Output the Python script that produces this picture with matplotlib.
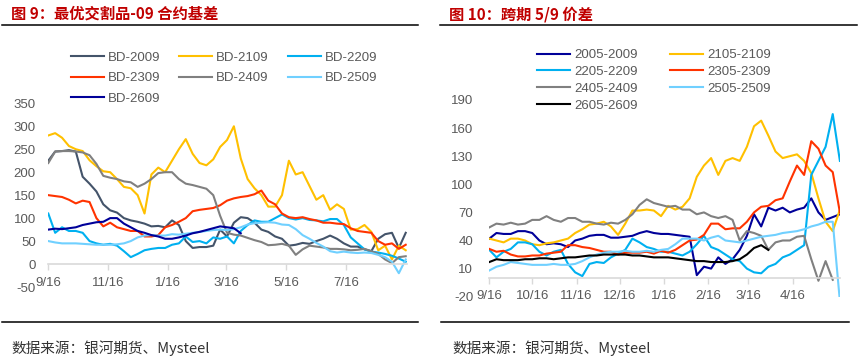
import matplotlib
matplotlib.use("Agg")
import matplotlib.pyplot as plt
import matplotlib.dates as mdates
from matplotlib.lines import Line2D
import pandas as pd

plt.rcParams['font.family'] = ['Liberation Sans', 'Noto Sans CJK SC', 'DejaVu Sans']

# ---------------- Chart 9 data (weekly, from 2024-09-16) ----------------
left_dates = pd.date_range('2024-09-16', periods=53, freq='7D')
bd2009 = [225,245,246,248,245,190,175,158,130,117,112,100,95,92,88,82,83,80,95,85,
          50,35,37,37,40,75,60,90,102,100,90,75,70,60,55,40,42,46,44,50,
          55,62,55,45,38,38,32,28,55,65,68,35,68]
bd2109 = [280,285,275,257,250,246,226,213,202,200,185,168,165,150,110,195,210,200,225,250,
          272,240,220,215,228,255,270,300,230,185,165,150,125,125,150,225,195,200,170,140,
          150,118,130,120,75,76,85,70,30,40,10,40,30]
bd2209 = [110,68,80,72,72,68,50,45,42,44,40,28,15,22,30,33,35,35,42,45,
          60,48,50,45,58,55,60,45,72,85,95,92,92,100,108,100,97,100,96,95,
          93,98,98,85,58,45,32,27,25,22,18,12,5]
bd2309 = [150,148,146,140,132,138,135,100,82,90,80,76,72,72,60,60,63,80,85,92,
          100,115,118,120,122,128,138,143,146,148,152,160,138,130,110,102,100,102,98,95,
          90,90,88,87,78,72,70,68,50,42,45,33,42]
bd2409 = [220,245,246,246,245,243,237,218,192,188,185,180,178,168,175,185,198,200,200,185,
          175,172,168,164,150,105,68,64,62,57,52,48,41,42,44,40,20,32,40,38,
          36,33,33,32,30,31,33,28,22,10,2,15,17]
bd2509 = [50,47,45,45,45,44,43,42,42,42,43,45,50,58,62,63,62,62,65,64,
          66,68,70,72,74,75,74,76,80,86,89,90,91,90,86,85,76,63,55,46,
          38,28,25,27,25,24,25,24,20,15,5,-20,10]
bd2609 = [75,77,76,78,80,85,88,91,92,100,100,88,80,72,68,63,60,55,55,58,
          62,67,70,74,78,82,80,78,67]
left_names = ['BD-2009', 'BD-2109', 'BD-2209', 'BD-2309', 'BD-2409', 'BD-2509', 'BD-2609']
left_series = [bd2009, bd2109, bd2209, bd2309, bd2409, bd2509, bd2609]
left_colors = ['#44546A', '#FFC000', '#00B0F0', '#FF3300', '#808080', '#70D0FF', '#000099']
left_ticks = ['2024-09-16', '2024-11-16', '2025-01-16', '2025-03-16', '2025-05-16', '2025-07-16']
left_yticks = [-50, 0, 50, 100, 150, 200, 250, 300, 350]

# ---------------- Chart 10 data (5-day steps, from 2024-09-16) ----------------
right_dates = pd.date_range('2024-09-16', periods=50, freq='5D')
s2005 = [42,48,47,47,50,50,48,40,36,37,36,33,40,42,45,46,46,43,43,44,
         45,48,50,48,47,47,46,45,44,3,12,10,22,15,20,30,45,68,55,75,
         72,75,70,73,75,85,70,62,65,68]
s2105 = [42,40,38,42,42,40,36,35,37,38,40,42,48,52,57,58,60,55,46,58,
         72,72,73,72,66,77,73,76,85,108,120,128,110,125,128,125,140,162,168,152,
         135,128,130,132,125,112,85,60,50,73]
s2205 = [30,22,28,31,38,38,36,28,24,28,30,15,6,2,15,17,16,22,26,30,
         42,38,33,31,28,28,26,24,28,36,45,33,30,25,20,18,10,6,5,12,
         15,22,25,30,35,110,125,140,175,125]
s2305 = [31,28,29,25,23,23,24,24,26,27,28,35,35,33,32,30,28,28,25,27,
         27,27,28,26,29,27,30,35,40,41,46,58,58,52,53,53,60,70,76,77,
         83,85,103,120,110,146,138,120,113,70]
s2405 = [54,58,57,59,57,58,62,62,66,62,60,64,64,60,60,58,57,59,58,62,
         68,78,84,80,78,76,77,73,73,68,70,66,64,66,62,40,50,48,45,30,
         38,40,40,44,45,20,-3,18,-2]
s2505 = [8,12,14,17,16,15,14,14,14,15,14,14,15,18,22,25,27,28,28,29,
         28,28,29,28,30,31,36,42,42,42,40,43,45,40,39,38,40,42,44,45,
         46,48,49,50,52,55,57,60,60,-25]
s2605 = [17,20,19,19,19,20,20,21,21,20,21,22,22,23,24,24,25,25,25,25,
         24,24,23,22,22,22,21,20,19,18,18,17,17,17,18,20,25,32,35,30]
right_names = ['2005-2009', '2105-2109', '2205-2209', '2305-2309', '2405-2409', '2505-2509', '2605-2609']
right_series = [s2005, s2105, s2205, s2305, s2405, s2505, s2605]
right_colors = ['#000099', '#FFC000', '#00B0F0', '#FF3300', '#808080', '#70D0FF', '#000000']
right_ticks = ['2024-09-16', '2024-10-16', '2024-11-16', '2024-12-16', '2025-01-16',
               '2025-02-16', '2025-03-16', '2025-04-16']
right_yticks = [-20, 10, 40, 70, 100, 130, 160, 190]

W, H = 860, 361
fig = plt.figure(figsize=(8.6, 3.61), dpi=100)

TICK_COLOR = '#595959'
AXIS_COLOR = '#D9D9D9'


def fx(px):
    return px / W


def fy(py):
    return 1 - py / H


def style_axes(ax, ticks, yticks, ylim, xlim, ypad):
    ax.set_ylim(*ylim)
    ax.set_xlim(pd.Timestamp(xlim[0]), pd.Timestamp(xlim[1]))
    for s in ['top', 'right', 'left']:
        ax.spines[s].set_visible(False)
    ax.spines['bottom'].set_position(('data', 0))
    ax.spines['bottom'].set_color(AXIS_COLOR)
    ax.spines['bottom'].set_linewidth(1.2)
    ax.set_yticks(yticks)
    ax.set_yticklabels([str(v) for v in yticks])
    tdates = [pd.Timestamp(t) for t in ticks]
    ax.set_xticks(tdates)
    ax.set_xticklabels([f"{d.month}/{d.day}" for d in tdates])
    ax.tick_params(axis='y', length=0, pad=ypad, labelsize=9.5, labelcolor=TICK_COLOR)
    ax.tick_params(axis='x', length=4, width=1, color=AXIS_COLOR, pad=5,
                   labelsize=9.5, labelcolor=TICK_COLOR)
    ax.patch.set_alpha(0)


# Left chart
axL = fig.add_axes([fx(48.3), fy(287), fx(406.7 - 48.3), (287 - 103.3) / H])
linesL = []
for name, vals, col in zip(left_names, left_series, left_colors):
    ln, = axL.plot(left_dates[:len(vals)], vals, color=col, lw=1.5, label=name)
    linesL.append(ln)
style_axes(axL, left_ticks, left_yticks, (-50, 350), ('2024-09-16', '2025-09-16'), 9)

orderL = [0, 3, 6, 1, 4, 2, 5]
fig.legend([linesL[i] for i in orderL], [left_names[i] for i in orderL],
           loc='upper left', bbox_to_anchor=(fx(70.7), fy(51.5)), bbox_transform=fig.transFigure,
           ncol=3, frameon=False, borderpad=0, borderaxespad=0,
           handlelength=2.5, handletextpad=0.3, columnspacing=1.45, labelspacing=0.64,
           fontsize=9.5, labelcolor=TICK_COLOR)

# Right chart
axR = fig.add_axes([fx(489.3), fy(296.7), fx(245 * 1.431), (296.7 - 100) / H])
linesR = []
for name, vals, col in zip(right_names, right_series, right_colors):
    ln, = axR.plot(right_dates[:len(vals)], vals, color=col, lw=1.5, label=name)
    linesR.append(ln)
style_axes(axR, right_ticks, right_yticks, (-20, 190), ('2024-09-16', '2025-05-19'), 11.5)

orderR = [0, 2, 4, 6, 1, 3, 5]
fig.legend([linesR[i] for i in orderR], [right_names[i] for i in orderR],
           loc='upper left', bbox_to_anchor=(fx(537), fy(49)), bbox_transform=fig.transFigure,
           ncol=2, frameon=False, borderpad=0, borderaxespad=0,
           handlelength=2.5, handletextpad=0.3, columnspacing=2.5, labelspacing=0.35,
           fontsize=9.5, labelcolor=TICK_COLOR)

# Titles and rules
title_kw = dict(color='#C00000', fontsize=11, fontweight='bold', va='center',
                family=['Noto Sans CJK SC', 'DejaVu Sans'])
fig.text(fx(11), fy(14), '图 9：最优交割品-09 合约基差', **title_kw)
fig.text(fx(449), fy(14), '图 10：跨期 5/9 价差', **title_kw)

for x0, x1, y in [(2, 418, 24.5), (440, 857, 24.5), (2, 418, 322.3), (441, 849, 322.3)]:
    fig.add_artist(Line2D([fx(x0), fx(x1)], [fy(y), fy(y)], transform=fig.transFigure,
                          color='black', lw=1.1))

src_kw = dict(color='#333333', fontsize=10.5, va='center', family=['Noto Sans CJK SC', 'DejaVu Sans'])
fig.text(fx(11), fy(348), '数据来源：银河期货、Mysteel', **src_kw)
fig.text(fx(452), fy(348), '数据来源：银河期货、Mysteel', **src_kw)

fig.savefig('out.png', dpi=100)
